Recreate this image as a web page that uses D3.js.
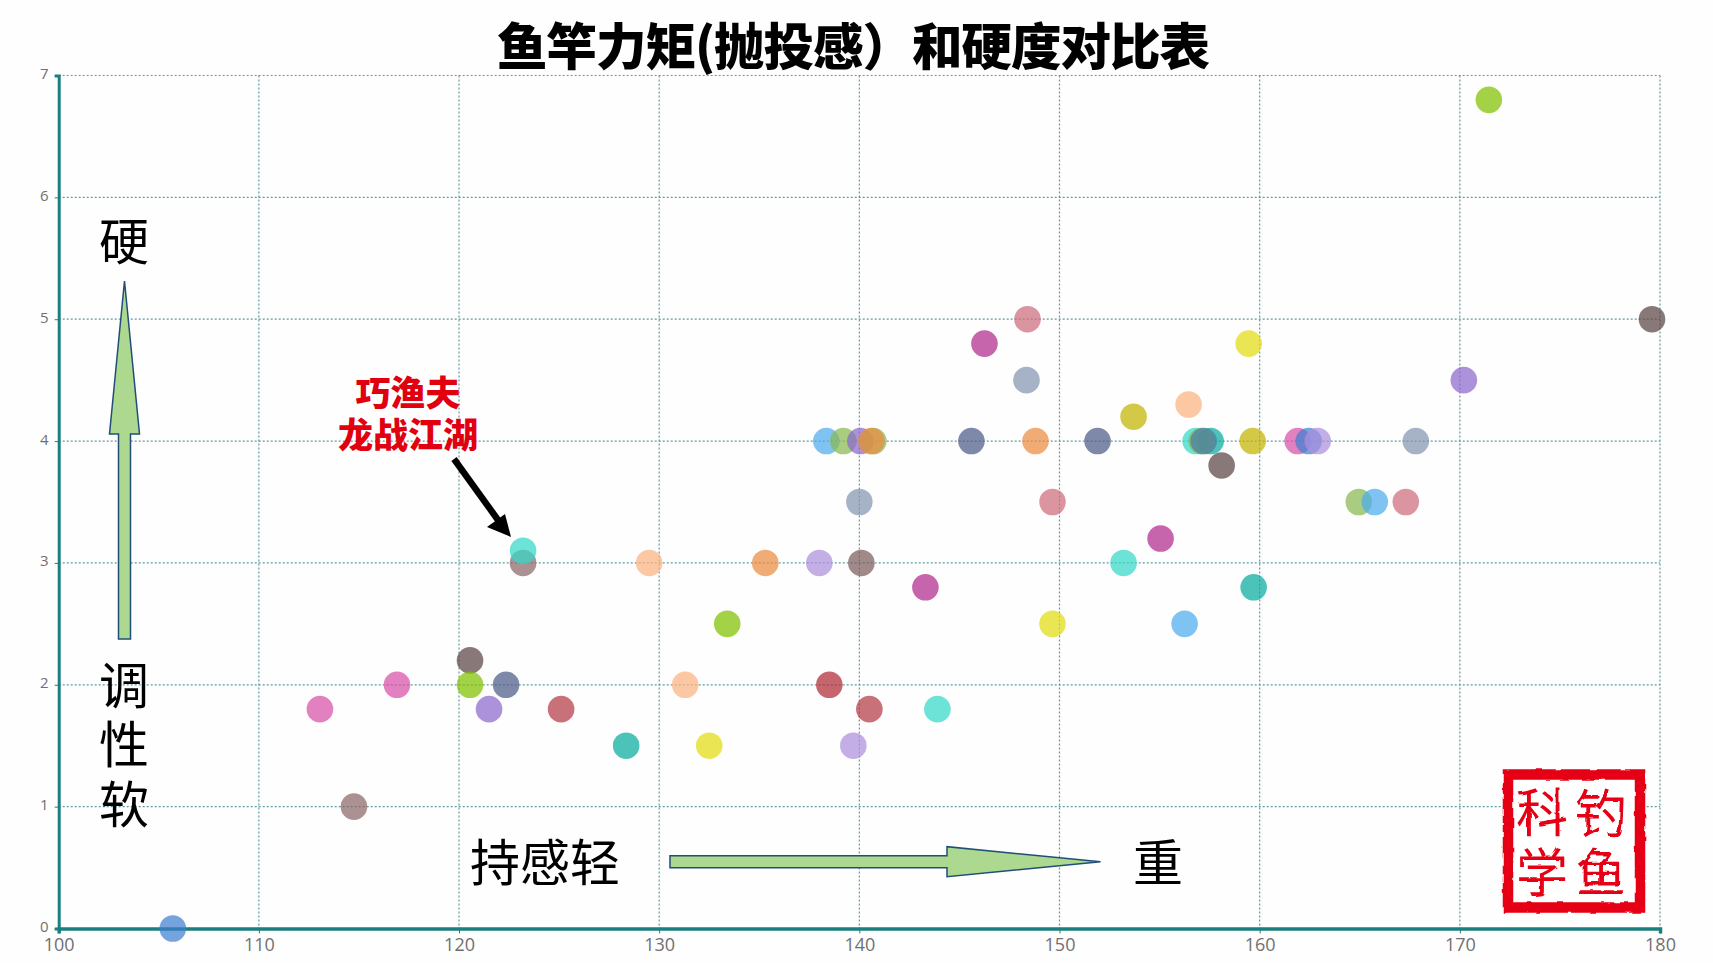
<!DOCTYPE html>
<html>
<head>
<meta charset="utf-8">
<title>鱼竿力矩和硬度对比表</title>
<script src="https://cdn.jsdelivr.net/npm/d3@7"></script>
<style>
  body { margin: 0; background: #fefefe; overflow: hidden; }
  text { font-family: "Noto Sans CJK SC", "Noto Sans", sans-serif; }
  .tick text { font-family: "Open Sans", sans-serif; fill: #707070; }
</style>
</head>
<body>
<script>
//Width and height
var w = 1713;
var h = 963;

//Werte
var rodTorque = [105.7, 113.05, 114.75, 116.9, 120.55, 120.55, 121.5, 122.35, 125.1, 123.2, 123.2, 128.35, 129.5, 131.3, 132.5, 133.4, 135.3, 138.0, 138.5, 138.35, 139.2, 140.05, 140.7, 140.6, 140.0, 140.1, 139.7, 140.5, 143.3, 143.9, 145.6, 146.25, 148.35, 148.4, 148.8, 149.65, 149.65, 151.9, 153.2, 153.7, 155.05, 156.25, 156.45, 156.8, 157.55, 157.1, 157.2, 158.1, 159.45, 159.65, 159.7, 161.9, 162.45, 162.9, 164.95, 165.75, 167.3, 167.8, 170.2, 171.45, 179.6];
var rodHardness = [0, 1.8, 1, 2, 2.2, 2, 1.8, 2, 1.8, 3, 3.1, 1.5, 3, 2, 1.5, 2.5, 3, 3, 2, 4, 4, 4, 4, 4, 3.5, 3, 1.5, 1.8, 2.8, 1.8, 4, 4.8, 4.5, 5, 4, 3.5, 2.5, 4, 3, 4.2, 3.2, 2.5, 4.3, 4, 4, 4, 4, 3.8, 4.8, 4, 2.8, 4, 4, 4, 3.5, 3.5, 3.5, 4, 4.5, 6.8, 5];
var dotColors = ["#3f7fd0", "#d84fa8", "#8a6666", "#d84fa8", "#5a4444", "#7fc000", "#8a68cc", "#4c5c88", "#b33a44", "#8a6666", "#35d8c8", "#05ac9c", "#fbb380", "#fbb380", "#e2dc10", "#7fc000", "#ec8a40", "#ac90dc", "#b02a34", "#4cacec", "#88b850", "#8a68cc", "#88b850", "#ec8a40", "#8494b0", "#7a5c5c", "#ac90dc", "#b33a44", "#b02a8c", "#35d8c8", "#4c5c88", "#b02a8c", "#8494b0", "#cc6c7c", "#ec8a40", "#cc6c7c", "#e2dc10", "#4c5c88", "#35d8c8", "#c4b400", "#b02a8c", "#4cacec", "#fbb380", "#35d8c8", "#05ac9c", "#88b850", "#4c7ca8", "#5a4444", "#e2dc10", "#c4b400", "#05ac9c", "#d84fa8", "#3f7fd0", "#ac90dc", "#88b850", "#4cacec", "#cc6c7c", "#8494b0", "#8a68cc", "#7fc000", "#5a4444"];

var xTicks = [100, 110, 120, 130, 140, 150, 160, 170, 180];
var yTicks = [0, 1, 2, 3, 4, 5, 6, 7];

var titleText = "鱼竿力矩(抛投感）和硬度对比表";
var brandLines = ["巧渔夫", "龙战江湖"];
var softLabels = ["调", "性", "软"];
var sealChars = ["科", "学", "钓", "鱼"];

//Define scales
var xScale = d3.scaleLinear().domain([100, 180]).range([58.7, 1660]);
var yScale = d3.scaleLinear().domain([0, 7]).range([928.5, 75.5]);

//Create SVG element
var svg = d3.select("body").append("svg").attr("width", w).attr("height", h);

svg
  .append("rect")
  .attr("width", "100%")
  .attr("height", "100%")
  .attr("fill", "#fefefe");

//rauer Rand für den Stempel
var rough = svg.append("filter").attr("id", "rough");
rough
  .append("feTurbulence")
  .attr("type", "fractalNoise")
  .attr("baseFrequency", 0.09)
  .attr("numOctaves", 2)
  .attr("seed", 4);
rough
  .append("feDisplacementMap")
  .attr("in", "SourceGraphic")
  .attr("scale", 3.5);

//Gitterlinien
svg
  .selectAll(".gridx")
  .data(xTicks.slice(1))
  .enter()
  .append("line")
  .attr("x1", (d) => xScale(d))
  .attr("x2", (d) => xScale(d))
  .attr("y1", yScale(7))
  .attr("y2", yScale(0))
  .style("stroke", "#5c9c9c")
  .style("stroke-width", 1.2)
  .style("stroke-dasharray", "2,2");

svg
  .selectAll(".gridy")
  .data(yTicks.slice(1))
  .enter()
  .append("line")
  .attr("x1", xScale(100))
  .attr("x2", xScale(180))
  .attr("y1", (d) => yScale(d))
  .attr("y2", (d) => yScale(d))
  .style("stroke", "#5c9c9c")
  .style("stroke-width", 1.2)
  .style("stroke-dasharray", "2,2");

//Achsen
var xAxis = svg
  .append("g")
  .attr("transform", "translate(0," + yScale(0) + ")")
  .call(d3.axisBottom(xScale).tickValues(xTicks).tickSize(5).tickPadding(5).tickFormat(d3.format("d")));
xAxis.selectAll("text").style("font-size", "18px");
xAxis.selectAll("line").style("stroke", "#1c7f7f");
xAxis.select(".domain").style("stroke", "#1c7f7f").style("stroke-width", 3.5);

var yAxis = svg
  .append("g")
  .attr("transform", "translate(" + xScale(100) + ",0)")
  .call(d3.axisLeft(yScale).tickValues(yTicks).tickSize(4).tickPadding(6).tickFormat(d3.format("d")));
yAxis.selectAll("text").style("font-size", "15px").attr("dy", "0.2em");
yAxis.selectAll("line").style("stroke", "#1c7f7f");
yAxis.select(".domain").style("stroke", "#1c7f7f").style("stroke-width", 3);

//Punkte
svg
  .selectAll("circle")
  .data(rodTorque)
  .enter()
  .append("circle")
  .attr("cx", (d) => xScale(d))
  .attr("cy", (d, i) => yScale(rodHardness[i]))
  .attr("r", 13.3)
  .style("fill", (d, i) => dotColors[i])
  .style("opacity", 0.72);

//Titel
svg
  .append("text")
  .attr("x", 853)
  .attr("y", 43)
  .attr("text-anchor", "middle")
  .attr("dominant-baseline", "central")
  .style("font-size", "50.5px")
  .style("font-weight", 900)
  .style("fill", "#000")
  .style("letter-spacing", "-1px")
  .text(titleText);

//Grüne Pfeile
var arrowLine = d3.line();
svg
  .append("path")
  .attr("d", arrowLine([[118.5, 639], [118.5, 434], [109.5, 434], [124.5, 281], [139.5, 434], [130.5, 434], [130.5, 639]]) + "Z")
  .style("fill", "#acd98f")
  .style("stroke", "#1f4e79")
  .style("stroke-width", 1.5);

svg
  .append("path")
  .attr("d", arrowLine([[670, 855.7], [947, 855.7], [947, 846.7], [1100.5, 861.7], [947, 876.7], [947, 867.7], [670, 867.7]]) + "Z")
  .style("fill", "#acd98f")
  .style("stroke", "#1f4e79")
  .style("stroke-width", 1.5);

//Achsenbeschriftung im Bild
function bigLabel(x, y, label) {
  svg
    .append("text")
    .attr("x", x)
    .attr("y", y)
    .attr("text-anchor", "middle")
    .attr("dominant-baseline", "central")
    .style("font-size", "50px")
    .style("fill", "#000")
    .text(label);
}
bigLabel(124, 238, "硬");
softLabels.forEach(function (d, i) {
  bigLabel(124, [682, 741, 801][i], d);
});
bigLabel(545, 859, "持感轻");
bigLabel(1158, 859, "重");

//Markierung
svg
  .selectAll(".brand")
  .data(brandLines)
  .enter()
  .append("text")
  .attr("x", 408)
  .attr("y", (d, i) => 390 + i * 42)
  .attr("text-anchor", "middle")
  .attr("dominant-baseline", "central")
  .style("font-size", "35px")
  .style("font-weight", 900)
  .style("fill", "#e00010")
  .text((d) => d);

svg
  .append("path")
  .attr("d", arrowLine([[454, 459], [498, 520]]))
  .style("fill", "none")
  .style("stroke", "#000")
  .style("stroke-width", 6.5);

svg
  .append("path")
  .attr("d", arrowLine([[487, 527], [505, 514], [511, 537]]) + "Z")
  .style("fill", "#000");

//Stempel
var seal = svg.append("g").attr("filter", "url(#rough)");
seal
  .append("rect")
  .attr("x", 1508)
  .attr("y", 774.5)
  .attr("width", 132)
  .attr("height", 133)
  .style("fill", "#fff")
  .style("stroke", "#e60012")
  .style("stroke-width", 10.5);

seal
  .selectAll(".seal")
  .data(sealChars)
  .enter()
  .append("text")
  .attr("x", (d, i) => [1542, 1542, 1601, 1601][i])
  .attr("y", (d, i) => [809, 869, 810, 869][i])
  .attr("text-anchor", "middle")
  .attr("dominant-baseline", "central")
  .style("font-size", "52px")
  .style("fill", "#e60012")
  .text((d) => d);
</script>
</body>
</html>
